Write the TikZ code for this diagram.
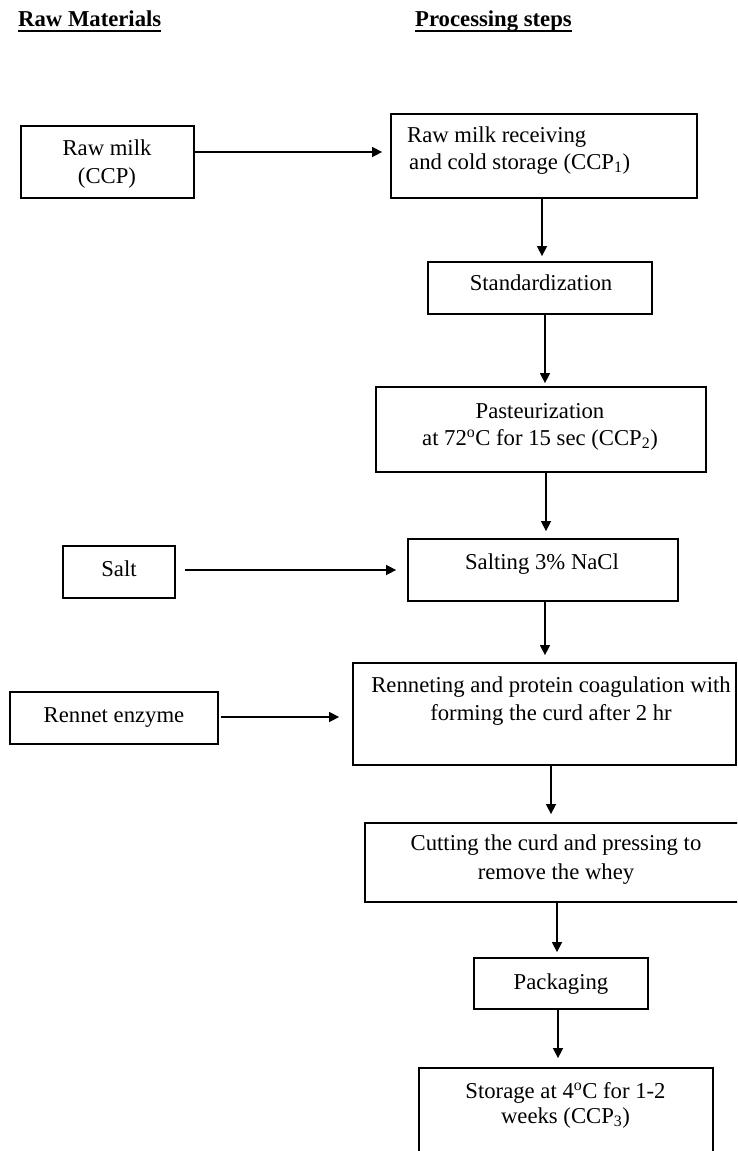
\documentclass[tikz,border=0pt]{standalone}
\usepackage{fontspec}
\setmainfont{Liberation Serif}
\usetikzlibrary{arrows.meta}

\tikzset{
  stepbox/.style={draw=black, line width=1.8pt, inner sep=0pt},
  line/.style={inner sep=0pt, anchor=base, font=\fontsize{22.7}{27}\selectfont},
  head/.style={inner sep=0pt, anchor=base west, font=\fontsize{22.7}{27}\selectfont\bfseries},
  arr/.style={line width=1.5pt, -{Triangle[length=10pt,width=10pt]}},
}

\begin{document}
\begin{tikzpicture}[x=1pt, y=-1pt]
\clip (0,0) rectangle (737,1151);
\fill[white] (0,0) rectangle (737,1151);

% column headings
\node[head] (hraw) at (18,27) {Raw Materials};
\node[head] (hproc) at (415,27) {Processing steps};
\draw[line width=2pt] ([yshift=-4pt]hraw.base west) -- ([yshift=-4pt]hraw.base east);
\draw[line width=2pt] ([yshift=-4pt]hproc.base west) -- ([yshift=-4pt]hproc.base east);

% raw material boxes
\node[stepbox, minimum width=173pt, minimum height=72pt] (rawmilk) at (107.5,162) {};
\node[stepbox, minimum width=112pt, minimum height=52pt] (salt) at (119,572) {};
\node[stepbox, minimum width=208pt, minimum height=52pt] (rennet) at (114,718) {};

% processing step boxes
\node[stepbox, minimum width=306pt, minimum height=84pt] (receive) at (544,156) {};
\node[stepbox, minimum width=224pt, minimum height=52pt] (stand) at (540,288) {};
\node[stepbox, minimum width=330pt, minimum height=85pt] (pasteur) at (541,429.5) {};
\node[stepbox, minimum width=270pt, minimum height=62pt] (salting) at (543,570) {};
\node[stepbox, minimum width=383pt, minimum height=102pt] (renneting) at (544.5,714) {};
\node[stepbox, minimum width=380pt, minimum height=79pt] (cutting) at (555,862.5) {};
\node[stepbox, minimum width=174pt, minimum height=51pt] (packaging) at (561,983.5) {};
\node[stepbox, minimum width=294pt, minimum height=100pt] (storage) at (566,1118) {};

% box texts
\node[line] (rawmilk1) at (107,155) {Raw milk};
\node[line] (rawmilk2) at (107,183) {(CCP)};
\node[line] (salt1) at (119,576) {Salt};
\node[line] (rennet1) at (114,722) {Rennet enzyme};

\node[line, anchor=base west] (receive1) at (407,142) {Raw milk receiving};
\node[line, anchor=base west] (receive2) at (409,169) {and cold storage (CCP\textsubscript{1})};
\node[line] (stand1) at (541,290) {Standardization};
\node[line] (pasteur1) at (540,418) {Pasteurization};
\node[line] (pasteur2) at (540,445) {at 72\textsuperscript{o}C for 15 sec (CCP\textsubscript{2})};
\node[line] (salting1) at (542,569) {Salting 3\% NaCl};
\node[line] (renneting1) at (551,692) {Renneting and protein coagulation with};
\node[line] (renneting2) at (551,720) {forming the curd after 2 hr};
\node[line] (cutting1) at (556,850) {Cutting the curd and pressing to};
\node[line] (cutting2) at (556,879) {remove the whey};
\node[line] (packaging1) at (561,989) {Packaging};
\node[line] (storage1) at (565.5,1098) {Storage at 4\textsuperscript{o}C for 1-2};
\node[line] (storage2) at (565.5,1123) {weeks (CCP\textsubscript{3})};

% flow connectors
\draw[arr, shorten >=8pt] (rawmilk.east |- 0,152) -- (receive.west |- 0,152);
\draw[arr, shorten >=5pt] (receive.south -| 542,0) -- (stand.north -| 542,0);
\draw[arr, shorten >=3pt] (stand.south -| 545,0) -- (pasteur.north -| 545,0);
\draw[arr, shorten >=7pt] (pasteur.south -| 546,0) -- (salting.north -| 546,0);
\draw[arr, shorten <=9pt, shorten >=11pt] (salt.east |- 0,570) -- (salting.west |- 0,570);
\draw[arr, shorten >=7pt] (salting.south -| 545,0) -- (renneting.north -| 545,0);
\draw[arr, shorten <=2pt, shorten >=13pt] (rennet.east |- 0,717) -- (renneting.west |- 0,717);
\draw[arr, shorten >=8pt] (renneting.south -| 551,0) -- (cutting.north -| 551,0);
\draw[arr, shorten >=5pt] (cutting.south -| 557,0) -- (packaging.north -| 557,0);
\draw[arr, shorten >=9pt] (packaging.south -| 558,0) -- (storage.north -| 558,0);
\end{tikzpicture}
\end{document}
